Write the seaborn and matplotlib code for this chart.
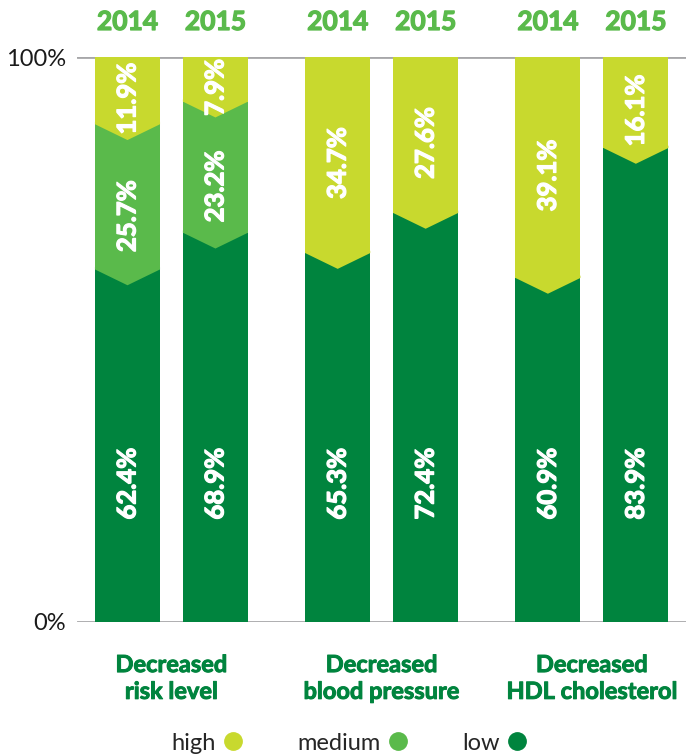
import pandas as pd
import seaborn as sns
import matplotlib.pyplot as plt
from matplotlib.lines import Line2D
from matplotlib.patches import Polygon
import matplotlib.patheffects as pe
import matplotlib.transforms as mtransforms

# data
categories = ['Decreased\nrisk level', 'Decreased\nblood pressure', 'Decreased\nHDL cholesterol']
years = ['2014', '2015']
low = [62.4, 68.9, 65.3, 72.4, 60.9, 83.9]
medium = [25.7, 23.2, 0, 0, 0, 0]
high = [11.9, 7.9, 34.7, 27.6, 39.1, 16.1]

c_high = '#c8d92e'
c_med = '#5aba4b'
c_low = '#00843e'

rows = []
for i in range(len(low)):
    g = i // 2
    y = i % 2
    rows.append({'pos': g * 2.39 + y, 'group': categories[g], 'year': years[y],
                 'low': low[i], 'medium': medium[i], 'high': high[i]})
df = pd.DataFrame(rows)
df['lm'] = df['low'] + df['medium']
df['total'] = df['lm'] + df['high']

sns.set_style('white')
plt.rcParams['font.family'] = ['Lato', 'DejaVu Sans']

fig = plt.figure(figsize=(6.86, 7.54), dpi=100)
ax = fig.add_axes([77 / 686, 132 / 754, 609 / 686, 565 / 754])

# stacked bars: draw cumulative heights back to front
for col, c in [('total', c_high), ('lm', c_med), ('low', c_low)]:
    sns.barplot(data=df, x='pos', y=col, native_scale=True, color=c, saturation=1,
                width=0.74, ax=ax, errorbar=None, linewidth=0)

ax.set_xlim(-0.574, 6.35)
ax.set_ylim(0, 100)

def thick(c, w):
    return [pe.withStroke(linewidth=w, foreground=c)]

# chevrons at each segment boundary + labels
depth = 2.8
bars = ax.containers[0]
trans = mtransforms.blended_transform_factory(ax.transData, ax.transAxes)
kw = dict(rotation=90, ha='center', va='center', color='white',
          fontsize=18.5, fontweight='bold', zorder=4, path_effects=thick('white', 0.9))
for i, r in df.iterrows():
    p = bars[i]
    x0 = p.get_x()
    w = p.get_width()
    xc = x0 + w / 2
    upper_col = c_med if r['medium'] > 0 else c_high
    b = r['low']
    ax.add_patch(Polygon([(x0, b + 0.4), (x0 + w, b + 0.4), (x0 + w, b), (xc, b - depth), (x0, b)],
                         closed=True, facecolor=upper_col, edgecolor='none', zorder=3))
    if r['medium'] > 0:
        b2 = r['lm']
        ax.add_patch(Polygon([(x0, b2 + 0.4), (x0 + w, b2 + 0.4), (x0 + w, b2), (xc, b2 - depth), (x0, b2)],
                             closed=True, facecolor=c_high, edgecolor='none', zorder=3))
    ax.text(xc, 24.5, f"{r['low']:.1f}%", **kw)
    if r['medium'] > 0:
        ax.text(xc, (r['low'] + r['lm'] - depth) / 2 - 2, f"{r['medium']:.1f}%", **kw)
        ax.text(xc, (r['lm'] + r['total'] - depth) / 2, f"{r['high']:.1f}%", **kw)
    else:
        ax.text(xc, (r['low'] + r['total'] - depth) / 2, f"{r['high']:.1f}%", **kw)

    # year labels on top
    ax.text(xc, 1 + 35 / 565, r['year'], transform=trans, ha='center', va='center',
            color=c_med, fontsize=19, fontweight='bold', path_effects=thick(c_med, 0.9))

# group labels underneath
for g, cat in enumerate(categories):
    ax.text(g * 2.39 + 0.5, -0.055, cat, transform=trans, ha='center', va='top',
            color=c_low, fontsize=17, fontweight='bold', linespacing=1.2,
            path_effects=thick(c_low, 0.7))

# axes styling
for s in ax.spines.values():
    s.set_visible(False)
ax.set_xticks([])
ax.set_yticks([0, 100])
ax.set_yticklabels(['0%', '100%'], fontsize=17, color='#1a1a1a')
ax.tick_params(axis='y', length=0, pad=8)
ax.set_xlabel('')
ax.set_ylabel('')
for yv in [0, 100]:
    ax.axhline(yv, color='#a7a7a9', lw=2, zorder=0.5)

# legend below
handles = [Line2D([], [], marker='o', ls='none', markersize=12.5, color=c)
           for c in [c_high, c_med, c_low]]
fig.legend(handles, ['high', 'medium', 'low'], loc='center', ncol=3,
           bbox_to_anchor=(350 / 686, 1 - 743 / 754), frameon=False,
           markerfirst=False, fontsize=17, handletextpad=0.25, columnspacing=2.2,
           handlelength=1.0)

plt.savefig('out.png', dpi=100)
